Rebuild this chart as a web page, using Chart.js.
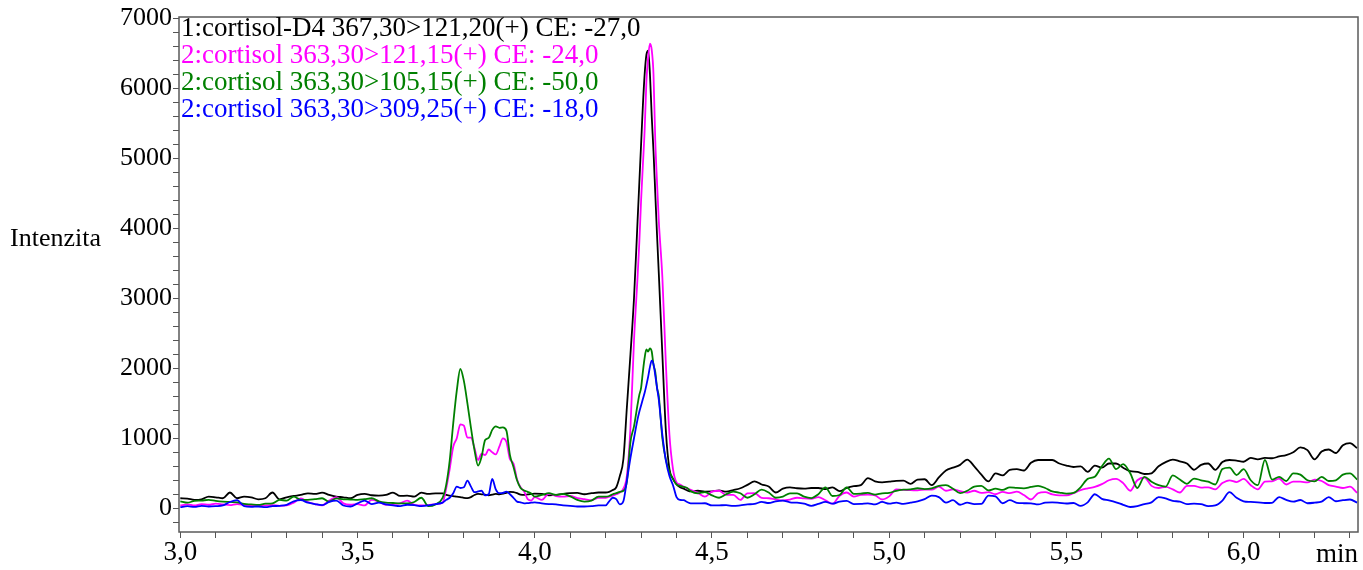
<!DOCTYPE html>
<html>
<head>
<meta charset="utf-8">
<title>cortisol MRM</title>
<script src="https://cdn.jsdelivr.net/npm/chart.js@4.4.0/dist/chart.umd.min.js"></script>
<style>
  html, body { margin: 0; padding: 0; background: #fff; }
</style>
</head>
<body>
<canvas id="chrom" width="1363" height="570"></canvas>
<script>
// retention time, min (finer steps around the peaks)
const times = [
  3.00, 3.02, 3.04, 3.06, 3.08, 3.10, 3.12, 3.14, 3.16, 3.18, 3.20, 3.22, 3.24, 3.26, 3.28, 3.30, 3.32, 3.34, 3.36, 3.38,
  3.40, 3.42, 3.44, 3.46, 3.48, 3.50, 3.52, 3.54, 3.56, 3.58, 3.60, 3.62, 3.64, 3.66, 3.68, 3.70, 3.72, 3.74,
  3.75, 3.76, 3.77, 3.78, 3.79, 3.80, 3.81, 3.82, 3.83, 3.84, 3.85, 3.86, 3.87, 3.88, 3.89, 3.90, 3.91, 3.92, 3.93, 3.94,
  3.95, 3.96, 3.97, 3.98, 3.99,
  4.00, 4.02, 4.04, 4.06, 4.08, 4.10, 4.12, 4.14, 4.16, 4.18,
  4.20, 4.21, 4.22, 4.23, 4.24, 4.25, 4.26, 4.27, 4.28, 4.29, 4.295, 4.30, 4.305, 4.31, 4.315, 4.32, 4.325, 4.33, 4.335, 4.34,
  4.345, 4.35, 4.36, 4.37, 4.38, 4.39, 4.40, 4.41, 4.42, 4.43, 4.44,
  4.46, 4.48, 4.50, 4.52, 4.54, 4.56, 4.58, 4.60, 4.62, 4.64, 4.66, 4.68, 4.70, 4.72, 4.74, 4.76, 4.78, 4.80, 4.82, 4.84,
  4.86, 4.88, 4.90, 4.92, 4.94, 4.96, 4.98, 5.00, 5.02, 5.04, 5.06, 5.08, 5.10, 5.12, 5.14, 5.16, 5.18, 5.20, 5.22, 5.24,
  5.26, 5.28, 5.30, 5.32, 5.34, 5.36, 5.38, 5.40, 5.42, 5.44, 5.46, 5.48, 5.50, 5.52, 5.54, 5.56, 5.58, 5.60, 5.62, 5.64,
  5.66, 5.68, 5.70, 5.72, 5.74, 5.76, 5.78, 5.80, 5.82, 5.84, 5.86, 5.88, 5.90, 5.92, 5.94, 5.96, 5.98, 6.00, 6.02, 6.04,
  6.06, 6.08, 6.10, 6.12, 6.14, 6.16, 6.18, 6.20, 6.22, 6.24, 6.26, 6.28, 6.30, 6.32
];

// 1:cortisol-D4 367,30>121,20
const d4_121 = [
  143, 138, 119, 128, 167, 157, 143, 225, 143, 167, 157, 128, 143, 225, 128, 157, 176, 190, 214, 205,
  224, 190, 167, 157, 143, 190, 205, 186, 181, 190, 224, 176, 181, 167, 224, 205, 214, 214,
  190, 180, 175, 165, 160, 150, 145, 160, 190, 205, 200, 195, 185, 195, 205, 200, 210, 220, 235, 230,
  215, 195, 190, 200, 205,
  210, 205, 185, 190, 205, 215, 220, 200, 215, 225,
  225, 235, 260, 300, 460, 700, 1450, 2200, 3000, 4100, 4650, 5200, 5750, 6200, 6480, 6540, 6200, 5600, 5100, 4500,
  3900, 3350, 2200, 1100, 560, 420, 340, 300, 280, 255, 240,
  250, 238, 240, 255, 238, 260, 286, 335, 385, 340, 310, 225, 280, 300, 286, 280, 290, 290, 275, 300,
  245, 290, 315, 330, 430, 385, 370, 381, 392, 395, 348, 410, 415, 330, 440, 540, 580, 620, 695, 600,
  480, 385, 499, 470, 550, 560, 540, 650, 690, 690, 690, 640, 610, 590, 600, 520, 610, 580, 640, 640,
  580, 530, 520, 490, 500, 600, 660, 695, 670, 640, 550, 620, 640, 550, 660, 690, 680, 665, 720, 700,
  720, 715, 740, 760, 800, 870, 830, 700, 810, 840, 790, 900, 930, 860
];

// 2:cortisol 363,30>121,15
const c_121 = [
  40, 55, 40, 60, 50, 65, 55, 45, 60, 50, 40, 35, 40, 45, 35, 40, 80, 140, 90, 60,
  40, 110, 160, 70, 50, 60, 40, 120, 95, 50, 60, 70, 110, 50, 40, 45, 60, 80,
  280, 560, 880, 1000, 1200, 1180, 1010, 1010, 860, 690, 780, 760, 840, 800, 770, 880, 1000, 950, 700, 640,
  410, 300, 240, 130, 110,
  160, 120, 210, 175, 165, 175, 145, 130, 115, 150,
  150, 165, 180, 200, 225, 280, 470, 1150, 2400, 3300, 3800, 4400, 4900, 5400, 6100, 6450, 6640, 6550, 6200, 5250,
  4650, 4100, 3300, 2050, 1050, 560, 370, 340, 310, 285, 262,
  220, 167, 238, 250, 190, 190, 119, 214, 215, 150, 143, 125, 112, 125, 150, 140, 135, 160, 115, 65,
  180, 225, 167, 190, 195, 185, 125, 170, 270, 262, 260, 255, 268, 265, 310, 250, 270, 245, 225, 250,
  220, 230, 200, 235, 215, 237, 190, 125, 214, 230, 200, 185, 185, 215, 260, 285, 305, 345, 400, 420,
  360, 250, 400, 440, 320, 290, 305, 270, 225, 320, 320, 295, 300, 270, 360, 400, 375, 420, 330, 270,
  380, 385, 425, 340, 380, 380, 370, 410, 390, 330, 310, 290, 310, 220
];

// 2:cortisol 363,30>105,15
const c_105 = [
  100, 80, 105, 110, 120, 105, 95, 90, 85, 62, 55, 48, 65, 71, 119, 110, 167, 120, 119, 130,
  143, 95, 140, 128, 125, 119, 130, 143, 100, 81, 75, 70, 71, 90, 150, 30, 55, 150,
  330, 680, 1214, 1680, 1990, 1820, 1500, 1150, 830, 610, 737, 975, 1005, 1120, 1170, 1150, 1155, 1110, 760, 590,
  400, 290, 255, 235, 210,
  165, 190, 215, 190, 205, 170, 120, 95, 110, 165,
  165, 175, 200, 215, 235, 250, 380, 950, 1170, 1480, 1620, 1720, 1950, 2150, 2270, 2240, 2285, 2240, 2050, 1950,
  1720, 1600, 1000, 690, 520, 420, 340, 320, 305, 290, 245,
  214, 230, 185, 150, 200, 238, 214, 150, 200, 265, 225, 150, 165, 214, 214, 165, 145, 200, 300, 175,
  190, 300, 205, 210, 220, 195, 214, 220, 250, 265, 270, 286, 275, 285, 320, 330, 280, 215, 250, 310,
  320, 255, 280, 262, 300, 290, 285, 305, 320, 290, 240, 225, 210, 220, 300, 420, 450, 600, 710, 560,
  630, 500, 290, 450, 380, 330, 310, 470, 410, 350, 425, 400, 380, 340, 560, 580, 475, 560, 400, 330,
  690, 410, 450, 390, 500, 480, 400, 385, 450, 390, 400, 480, 500, 410
];

// 2:cortisol 363,30>309,25
const c_309 = [
  15, 30, 20, 35, 25, 30, 40, 90, 115, 30, 20, 25, 15, 30, 35, 50, 100, 115, 80, 60,
  45, 90, 110, 40, 25, 70, 110, 60, 80, 55, 40, 30, 50, 45, 30, 40, 60, 80,
  120, 150, 215, 310, 290, 300, 395, 309, 230, 240, 250, 185, 200, 420, 270, 215, 220, 237, 200, 150,
  95, 85, 71, 75, 80,
  85, 70, 60, 55, 40, 35, 25, 25, 30, 40,
  40, 100, 150, 130, 55, 100, 400, 720, 1000, 1270, 1380, 1470, 1560, 1650, 1760, 1880, 2020, 2110, 2060, 1900,
  1720, 1547, 1050, 680, 460, 330, 160, 120, 115, 90, 70,
  70, 72, 40, 42, 45, 33, 42, 55, 62, 90, 75, 100, 110, 85, 80, 65, 35, 62, 92, 65,
  95, 105, 60, 62, 70, 55, 90, 65, 80, 62, 80, 100, 130, 180, 160, 80, 115, 50, 80, 60,
  62, 180, 170, 72, 115, 78, 72, 70, 55, 80, 85, 78, 68, 75, 35, 85, 200, 135, 112, 85,
  50, 18, 30, 60, 85, 160, 140, 105, 95, 60, 65, 60, 30, 40, 110, 230, 150, 100, 90, 85,
  75, 78, 160, 120, 95, 118, 72, 80, 95, 160, 100, 115, 125, 80
];

const legendLines = [
  '1:cortisol-D4 367,30>121,20(+) CE: -27,0',
  '2:cortisol 363,30>121,15(+) CE: -24,0',
  '2:cortisol 363,30>105,15(+) CE: -50,0',
  '2:cortisol 363,30>309,25(+) CE: -18,0'
];
const colors = ['#000000', '#ff00ff', '#008000', '#0000ff'];

const xTicks = [3.0, 3.1, 3.2, 3.3, 3.4, 3.5, 3.6, 3.7, 3.8, 3.9, 4.0, 4.1, 4.2, 4.3, 4.4, 4.5, 4.6,
                4.7, 4.8, 4.9, 5.0, 5.1, 5.2, 5.3, 5.4, 5.5, 5.6, 5.7, 5.8, 5.9, 6.0, 6.1, 6.2, 6.3];
const xTickLabels = ['3,0', '', '', '', '', '3,5', '', '', '', '', '4,0', '', '', '', '', '4,5', '',
                     '', '', '', '5,0', '', '', '', '', '5,5', '', '', '', '', '6,0', '', '', ''];
const yTicks = [-200, 0, 200, 400, 600, 800, 1000, 1200, 1400, 1600, 1800, 2000, 2200, 2400, 2600, 2800,
                3000, 3200, 3400, 3600, 3800, 4000, 4200, 4400, 4600, 4800, 5000, 5200, 5400, 5600, 5800,
                6000, 6200, 6400, 6600, 6800, 7000];
const yLabelled = [0, 1000, 2000, 3000, 4000, 5000, 6000, 7000];

const serif = '"Liberation Serif", "Times New Roman", serif';

const pts = vals => times.map((t, i) => ({ x: t, y: vals[i] }));

// frame, legend text, axis titles
const decor = {
    id: 'decor',
    afterDraw(chart) {
        const { ctx, chartArea: a } = chart;
        ctx.save();
        ctx.strokeStyle = '#5a5a5a';
        ctx.lineWidth = 1.5;
        ctx.strokeRect(a.left, a.top, a.right - a.left, a.bottom - a.top);

        ctx.textBaseline = 'alphabetic';
        ctx.font = '27px ' + serif;
        legendLines.forEach((txt, i) => {
            ctx.fillStyle = colors[i];
            ctx.fillText(txt, a.left + 2, a.top + 19 + i * 27);
        });

        ctx.fillStyle = '#000';
        ctx.font = '26px ' + serif;
        ctx.textAlign = 'left';
        ctx.fillText('Intenzita', 10, 246);
        ctx.textAlign = 'right';
        ctx.font = '27px ' + serif;
        ctx.fillText('min', a.right, 562);
        ctx.restore();
    }
};

const series = [d4_121, c_121, c_105, c_309];

new Chart(document.getElementById('chrom'), {
    type: 'line',
    data: {
        datasets: series.map((vals, i) => ({
            label: legendLines[i],
            data: pts(vals),
            borderColor: colors[i],
            borderWidth: 1.8,
            pointRadius: 0,
            fill: false,
            cubicInterpolationMode: 'monotone',
            order: 3 - i
        }))
    },
    options: {
        responsive: false,
        animation: false,
        devicePixelRatio: 1,
        layout: { padding: { left: 0, right: 5, top: 17, bottom: 0 } },
        plugins: { legend: { display: false }, tooltip: { enabled: false } },
        scales: {
            x: {
                type: 'linear',
                min: 2.9963,
                max: 6.3226,
                afterBuildTicks: s => { s.ticks = xTicks.map(v => ({ value: v })); },
                afterFit: s => { s.height = 38; },
                border: { display: false },
                grid: { drawOnChartArea: false, tickLength: 6, color: '#555' },
                ticks: {
                    autoSkip: false, maxRotation: 0, minRotation: 0, padding: 0,
                    color: '#000', font: { family: serif, size: 27, lineHeight: 1.1 },
                    callback: (v, i) => xTickLabels[i]
                }
            },
            y: {
                min: -339,
                max: 7019,
                afterBuildTicks: s => { s.ticks = yTicks.map(v => ({ value: v })); },
                afterFit: s => { s.width = 179; },
                border: { display: false },
                grid: { drawOnChartArea: false, tickLength: 6, color: '#555' },
                ticks: {
                    autoSkip: false, padding: 1,
                    color: '#000', font: { family: serif, size: 26, lineHeight: 1.1 },
                    callback: v => yLabelled.includes(v) ? String(v) : ''
                }
            }
        }
    },
    plugins: [decor]
});
</script>
</body>
</html>
